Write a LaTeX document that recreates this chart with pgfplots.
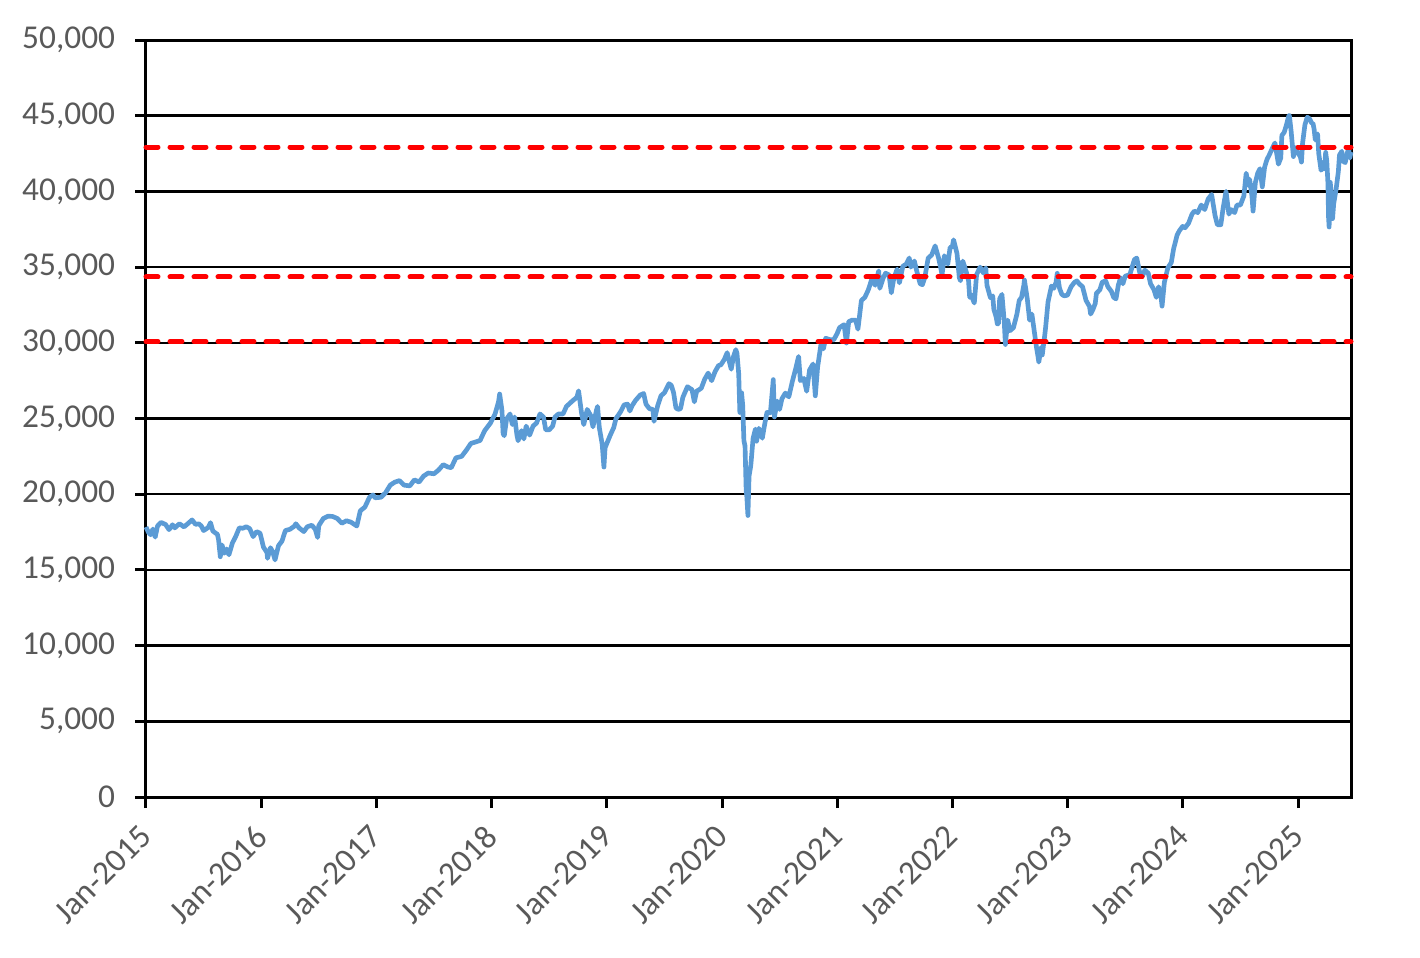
\documentclass[border=0pt]{standalone}
\usepackage{pgfplots}
\pgfplotsset{compat=1.18}
\usepackage{fontspec}
\setmainfont{Carlito}
\definecolor{txtgrey}{HTML}{595959}
\definecolor{djblue}{HTML}{5B9BD5}
\begin{document}
\begin{tikzpicture}
\useasboundingbox (-43.8pt,-48pt) rectangle (382.2pt,239.1pt);
\begin{axis}[
  scale only axis, width=361.5pt, height=227.1pt,
  xmin=2015, xmax=2025.46, ymin=0, ymax=50000,
  xtick={2015,2016,2017,2018,2019,2020,2021,2022,2023,2024,2025},
  xticklabels={Jan-2015,Jan-2016,Jan-2017,Jan-2018,Jan-2019,Jan-2020,Jan-2021,Jan-2022,Jan-2023,Jan-2024,Jan-2025},
  ytick={0,5000,...,50000},
  scaled y ticks=false,
  /pgf/number format/1000 sep={,},
  /pgf/number format/assume math mode=true,
  tick align=outside, major tick length=3.3pt,
  xtick pos=bottom, ytick pos=left,
  tick style={black, line width=0.9pt},
  axis line style={black, line width=0.9pt},
  ymajorgrids, grid style={black, line width=0.75pt},
  ticklabel style={font=\fontsize{10}{12}\selectfont, text=txtgrey},
  xticklabel style={xshift=-2.4pt, yshift=-3pt, rotate=45, anchor=north east, inner sep=1pt},
  yticklabel style={inner sep=1pt, xshift=-4.8pt},
  clip=false,
]
\addplot[djblue, line width=1.4pt, line join=round] coordinates {
(2015.00,17833)(2015.02,17500)(2015.04,17320)(2015.06,17700)(2015.08,17165)(2015.10,17900)(2015.13,18140)(2015.17,18000)(2015.20,17660)(2015.23,17980)(2015.25,17776)(2015.29,18050)(2015.33,17840)(2015.37,18100)(2015.40,18300)(2015.43,18011)(2015.46,18040)(2015.48,17900)(2015.50,17600)(2015.54,17800)(2015.56,18120)(2015.58,17570)(2015.61,17400)(2015.62,17350)(2015.63,16990)(2015.645,15870)(2015.66,16650)(2015.68,16100)(2015.70,16380)(2015.72,16000)(2015.75,16780)(2015.78,17230)(2015.81,17780)(2015.84,17750)(2015.87,17850)(2015.90,17730)(2015.93,17200)(2015.96,17530)(2015.99,17425)
(2016.02,16500)(2016.05,16150)(2016.055,15766)(2016.08,16466)(2016.10,16200)(2016.12,15660)(2016.15,16600)(2016.18,16900)(2016.21,17600)(2016.25,17685)(2016.29,17900)(2016.30,18050)(2016.33,17770)(2016.37,17530)(2016.40,17850)(2016.44,17950)(2016.47,17670)(2016.48,17400)(2016.49,17140)(2016.50,17930)(2016.54,18400)(2016.58,18550)(2016.62,18530)(2016.66,18400)(2016.70,18080)(2016.74,18250)(2016.78,18150)(2016.83,17900)(2016.86,18900)(2016.90,19150)(2016.94,19800)(2016.97,19950)(2016.99,19763)
(2017.04,19800)(2017.08,20100)(2017.12,20600)(2017.16,20800)(2017.20,20900)(2017.24,20600)(2017.29,20550)(2017.33,20950)(2017.37,20800)(2017.41,21200)(2017.45,21400)(2017.50,21350)(2017.54,21600)(2017.58,21950)(2017.62,21800)(2017.65,21750)(2017.69,22400)(2017.74,22500)(2017.78,22900)(2017.82,23350)(2017.86,23450)(2017.90,23550)(2017.94,24200)(2017.99,24700)
(2018.03,25300)(2018.06,26100)(2018.07,26617)(2018.09,25520)(2018.10,24000)(2018.11,23860)(2018.13,24960)(2018.16,25300)(2018.18,24600)(2018.20,25100)(2018.22,23900)(2018.23,23530)(2018.26,24200)(2018.28,23650)(2018.30,24500)(2018.33,23900)(2018.36,24500)(2018.39,24700)(2018.42,25300)(2018.45,25100)(2018.47,24250)(2018.50,24250)(2018.53,24500)(2018.55,25100)(2018.58,25300)(2018.62,25300)(2018.65,25800)(2018.70,26150)(2018.74,26400)(2018.755,26828)(2018.78,25400)(2018.80,24600)(2018.83,25600)(2018.86,25200)(2018.88,24450)(2018.91,25540)(2018.92,25800)(2018.935,24400)(2018.96,23300)(2018.975,21792)(2018.985,23060)(2018.999,23327)
(2019.03,23900)(2019.06,24400)(2019.08,25000)(2019.12,25450)(2019.15,25900)(2019.18,25950)(2019.20,25500)(2019.22,25850)(2019.25,26200)(2019.29,26550)(2019.32,26650)(2019.34,25950)(2019.37,25650)(2019.40,25600)(2019.41,24815)(2019.44,25800)(2019.47,26500)(2019.50,26700)(2019.54,27300)(2019.56,27190)(2019.58,26700)(2019.60,25700)(2019.62,25600)(2019.64,25650)(2019.66,26400)(2019.70,27100)(2019.74,26900)(2019.76,26100)(2019.78,26800)(2019.82,27000)(2019.85,27600)(2019.88,28000)(2019.91,27500)(2019.94,28100)(2019.97,28500)(2019.99,28540)
(2020.02,28900)(2020.045,29348)(2020.08,28256)(2020.10,29100)(2020.12,29550)(2020.13,29300)(2020.145,27960)(2020.155,25400)(2020.17,26700)(2020.18,25860)(2020.19,23550)(2020.20,23180)(2020.21,20190)(2020.215,19900)(2020.225,18592)(2020.235,21200)(2020.25,21900)(2020.27,23700)(2020.29,24300)(2020.30,23500)(2020.32,24350)(2020.35,23700)(2020.37,24600)(2020.39,25400)(2020.42,25380)(2020.44,27110)(2020.445,27572)(2020.455,25100)(2020.48,26150)(2020.50,25600)(2020.52,26300)(2020.55,26680)(2020.58,26430)(2020.61,27430)(2020.64,28300)(2020.665,29100)(2020.68,27500)(2020.71,27650)(2020.735,26800)(2020.76,28200)(2020.79,28600)(2020.81,26500)(2020.83,28400)(2020.86,29950)(2020.88,29600)(2020.90,30300)(2020.94,30200)(2020.97,30200)(2020.999,30606)
(2021.02,31000)(2021.06,31200)(2021.08,29983)(2021.10,31400)(2021.13,31500)(2021.16,31500)(2021.18,30900)(2021.21,32800)(2021.24,33000)(2021.27,33500)(2021.30,34200)(2021.33,33800)(2021.36,34750)(2021.37,33600)(2021.40,34300)(2021.42,34600)(2021.45,34480)(2021.47,33300)(2021.49,34200)(2021.52,34870)(2021.54,33960)(2021.57,35060)(2021.60,35200)(2021.625,35600)(2021.64,35000)(2021.67,35400)(2021.69,34750)(2021.72,33900)(2021.74,33840)(2021.76,34300)(2021.79,35600)(2021.82,35800)(2021.85,36400)(2021.88,35600)(2021.90,34900)(2021.91,34480)(2021.93,35750)(2021.96,35200)(2021.98,36300)(2021.999,36338)
(2022.01,36800)(2022.04,35900)(2022.06,34300)(2022.07,34100)(2022.09,35400)(2022.12,34700)(2022.14,34100)(2022.15,33000)(2022.16,33200)(2022.19,32630)(2022.21,34500)(2022.24,35000)(2022.27,34600)(2022.29,34950)(2022.30,33800)(2022.33,32977)(2022.35,33100)(2022.36,32200)(2022.38,31700)(2022.39,31250)(2022.40,31260)(2022.41,32900)(2022.43,33200)(2022.45,31400)(2022.46,29890)(2022.48,31500)(2022.50,30800)(2022.53,31000)(2022.56,31900)(2022.58,32800)(2022.60,33000)(2022.62,33800)(2022.625,34150)(2022.65,32900)(2022.67,31500)(2022.69,31900)(2022.71,30800)(2022.73,29700)(2022.745,29000)(2022.75,28725)(2022.77,29700)(2022.78,29200)(2022.80,30400)(2022.81,31080)(2022.83,32700)(2022.86,33750)(2022.88,33600)(2022.90,34000)(2022.91,34590)(2022.93,33600)(2022.95,33200)(2022.97,33100)(2022.999,33147)
(2023.03,33700)(2023.06,34000)(2023.08,34090)(2023.10,33900)(2023.13,33700)(2023.16,32800)(2023.19,32400)(2023.20,31900)(2023.22,32200)(2023.24,32600)(2023.25,33270)(2023.28,33500)(2023.30,34000)(2023.33,34100)(2023.35,33700)(2023.38,33400)(2023.40,33000)(2023.42,32900)(2023.44,33800)(2023.46,34300)(2023.48,33900)(2023.50,34400)(2023.54,34500)(2023.56,35000)(2023.58,35500)(2023.60,35600)(2023.63,34500)(2023.65,34400)(2023.67,34800)(2023.70,34600)(2023.72,33900)(2023.75,33500)(2023.77,33000)(2023.79,33700)(2023.81,33100)(2023.82,32420)(2023.84,34000)(2023.87,34950)(2023.90,35300)(2023.92,36200)(2023.95,37100)(2023.97,37400)(2023.999,37690)
(2024.02,37600)(2024.05,37900)(2024.08,38500)(2024.10,38700)(2024.13,38600)(2024.16,39100)(2024.19,38800)(2024.22,39500)(2024.25,39800)(2024.28,38400)(2024.30,37800)(2024.33,37800)(2024.35,38900)(2024.375,40000)(2024.40,38500)(2024.42,38800)(2024.45,38600)(2024.47,39100)(2024.50,39100)(2024.53,39700)(2024.55,41200)(2024.57,40400)(2024.58,40800)(2024.60,39700)(2024.61,38700)(2024.63,40600)(2024.65,41200)(2024.67,41500)(2024.69,40300)(2024.71,41600)(2024.73,42100)(2024.75,42400)(2024.78,42900)(2024.80,43200)(2024.83,41800)(2024.85,42200)(2024.86,43700)(2024.88,43900)(2024.90,44400)(2024.92,45000)(2024.925,45014)(2024.94,44000)(2024.96,42300)(2024.975,42900)(2024.999,42544)
(2025.02,42300)(2025.03,41940)(2025.04,43200)(2025.06,44400)(2025.08,44900)(2025.10,44800)(2025.12,44500)(2025.13,44500)(2025.14,44100)(2025.15,43400)(2025.17,43800)(2025.18,42500)(2025.20,41400)(2025.21,41500)(2025.22,41950)(2025.23,41500)(2025.24,42580)(2025.25,42000)(2025.26,40500)(2025.265,38300)(2025.27,37650)(2025.28,40600)(2025.29,39600)(2025.30,38200)(2025.31,39200)(2025.33,40100)(2025.34,40700)(2025.35,41300)(2025.36,42400)(2025.38,42650)(2025.39,42000)(2025.41,41900)(2025.42,42300)(2025.43,42600)(2025.44,42800)(2025.45,42200)(2025.46,42600)
};
\addplot[red, line width=1.5pt, line cap=round, dash pattern=on 3.6pt off 3.6pt] coordinates {(2015,42930)(2025.46,42930)};
\addplot[red, line width=1.5pt, line cap=round, dash pattern=on 3.6pt off 3.6pt] coordinates {(2015,34350)(2025.46,34350)};
\addplot[red, line width=1.5pt, line cap=round, dash pattern=on 3.6pt off 3.6pt] coordinates {(2015,30080)(2025.46,30080)};
\end{axis}
\end{tikzpicture}
\end{document}
